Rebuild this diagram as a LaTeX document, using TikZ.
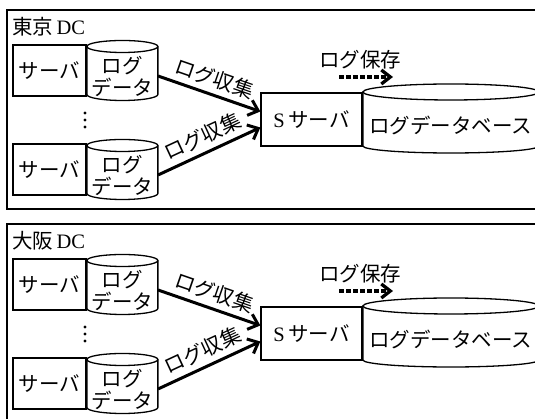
\documentclass[tikz,border=0pt]{standalone}
\usepackage{fontspec}
\setmainfont{Noto Sans CJK JP}
\newfontfamily\latfont{Liberation Serif}
\usetikzlibrary{positioning,arrows.meta}

\begin{document}
\begin{tikzpicture}[x=1pt, y=1pt, font=\fontsize{20.5}{22}\selectfont,
    srv/.style={draw, line width=1.3pt, inner sep=0pt, minimum width=73pt, minimum height=51pt},
    logdata/.style={inner sep=0pt, minimum width=71pt, align=center},
    ssrv/.style={draw, line width=1.3pt, inner sep=0pt, minimum width=101pt, minimum height=53pt},
    logdb/.style={inner sep=0pt, minimum width=176pt},
    collect/.style={line width=3pt, -{Straight Barb[length=9pt,width=16pt]}},
    store/.style={line width=3.3pt, dash pattern=on 5pt off 2pt, -{Straight Barb[length=9pt,width=14pt]}}]
    \useasboundingbox (0,0) rectangle (535,419);
    \clip (0,0) rectangle (535,419);

    % one panel per data centre, the second one moved down
    \foreach \n / \dc / \oy in {tk/東京/0, os/大阪/214}
    {
        \draw[line width=1.5pt] (7,409-\oy) rectangle (545,210-\oy);
        \node[anchor=west, inner sep=0pt] (\n-dc) at (12,392-\oy) {\dc{\latfont\,DC}};

        \node[srv] (\n-s1) at (49.5,348.5-\oy) {サーバ};
        \node[logdata, right=0pt of \n-s1, yshift=-5.5pt] (\n-d1) {ログ\\データ};
        \node[srv] (\n-s2) at (49.5,249.5-\oy) {サーバ};
        \node[logdata, right=0pt of \n-s2, yshift=-5.5pt] (\n-d2) {ログ\\データ};

        \foreach \dy in {-7,0,7}
            \fill (85,299+\dy-\oy) circle (1.6);

        % cylinders drawn round the text nodes
        \foreach \d in {\n-d1,\n-d2}
        {
            \draw[line width=1.3pt] ([shift={(-35.5,29.5)}]\d.center) -- ++(0,-48)
                arc[start angle=180, end angle=360, x radius=35.5, y radius=6] -- ++(0,48);
            \draw[line width=1.3pt] ([yshift=29.5pt]\d.center) ellipse [x radius=35.5, y radius=6];
        }

        \node[ssrv] (\n-ss) at (311.5,299.5-\oy) {{\latfont S}\,サーバ};
        \node[logdb, right=0pt of \n-ss, yshift=-5.5pt] (\n-db) {ログデータベース};
        \draw[line width=1.3pt] ([shift={(-88,33)}]\n-db.center) -- ++(0,-54)
            arc[start angle=180, end angle=360, x radius=88, y radius=7] -- ++(0,54);
        \draw[line width=1.3pt] ([yshift=33pt]\n-db.center) ellipse [x radius=88, y radius=8];

        \draw[collect] (\n-d1.east) -- node[above=2pt, sloped] {ログ収集} ([yshift=8pt]\n-ss.west);
        \draw[collect] (\n-d2.east) -- node[above=2pt, sloped] {ログ収集} ([yshift=-8pt]\n-ss.west);

        \node (\n-save) at (360,359-\oy) {ログ保存};
        \coordinate (\n-sa) at (339,342-\oy);
        \coordinate (\n-sb) at (393,342-\oy);
        \draw[store] (\n-sa) -- (\n-sb);
    }
\end{tikzpicture}
\end{document}
